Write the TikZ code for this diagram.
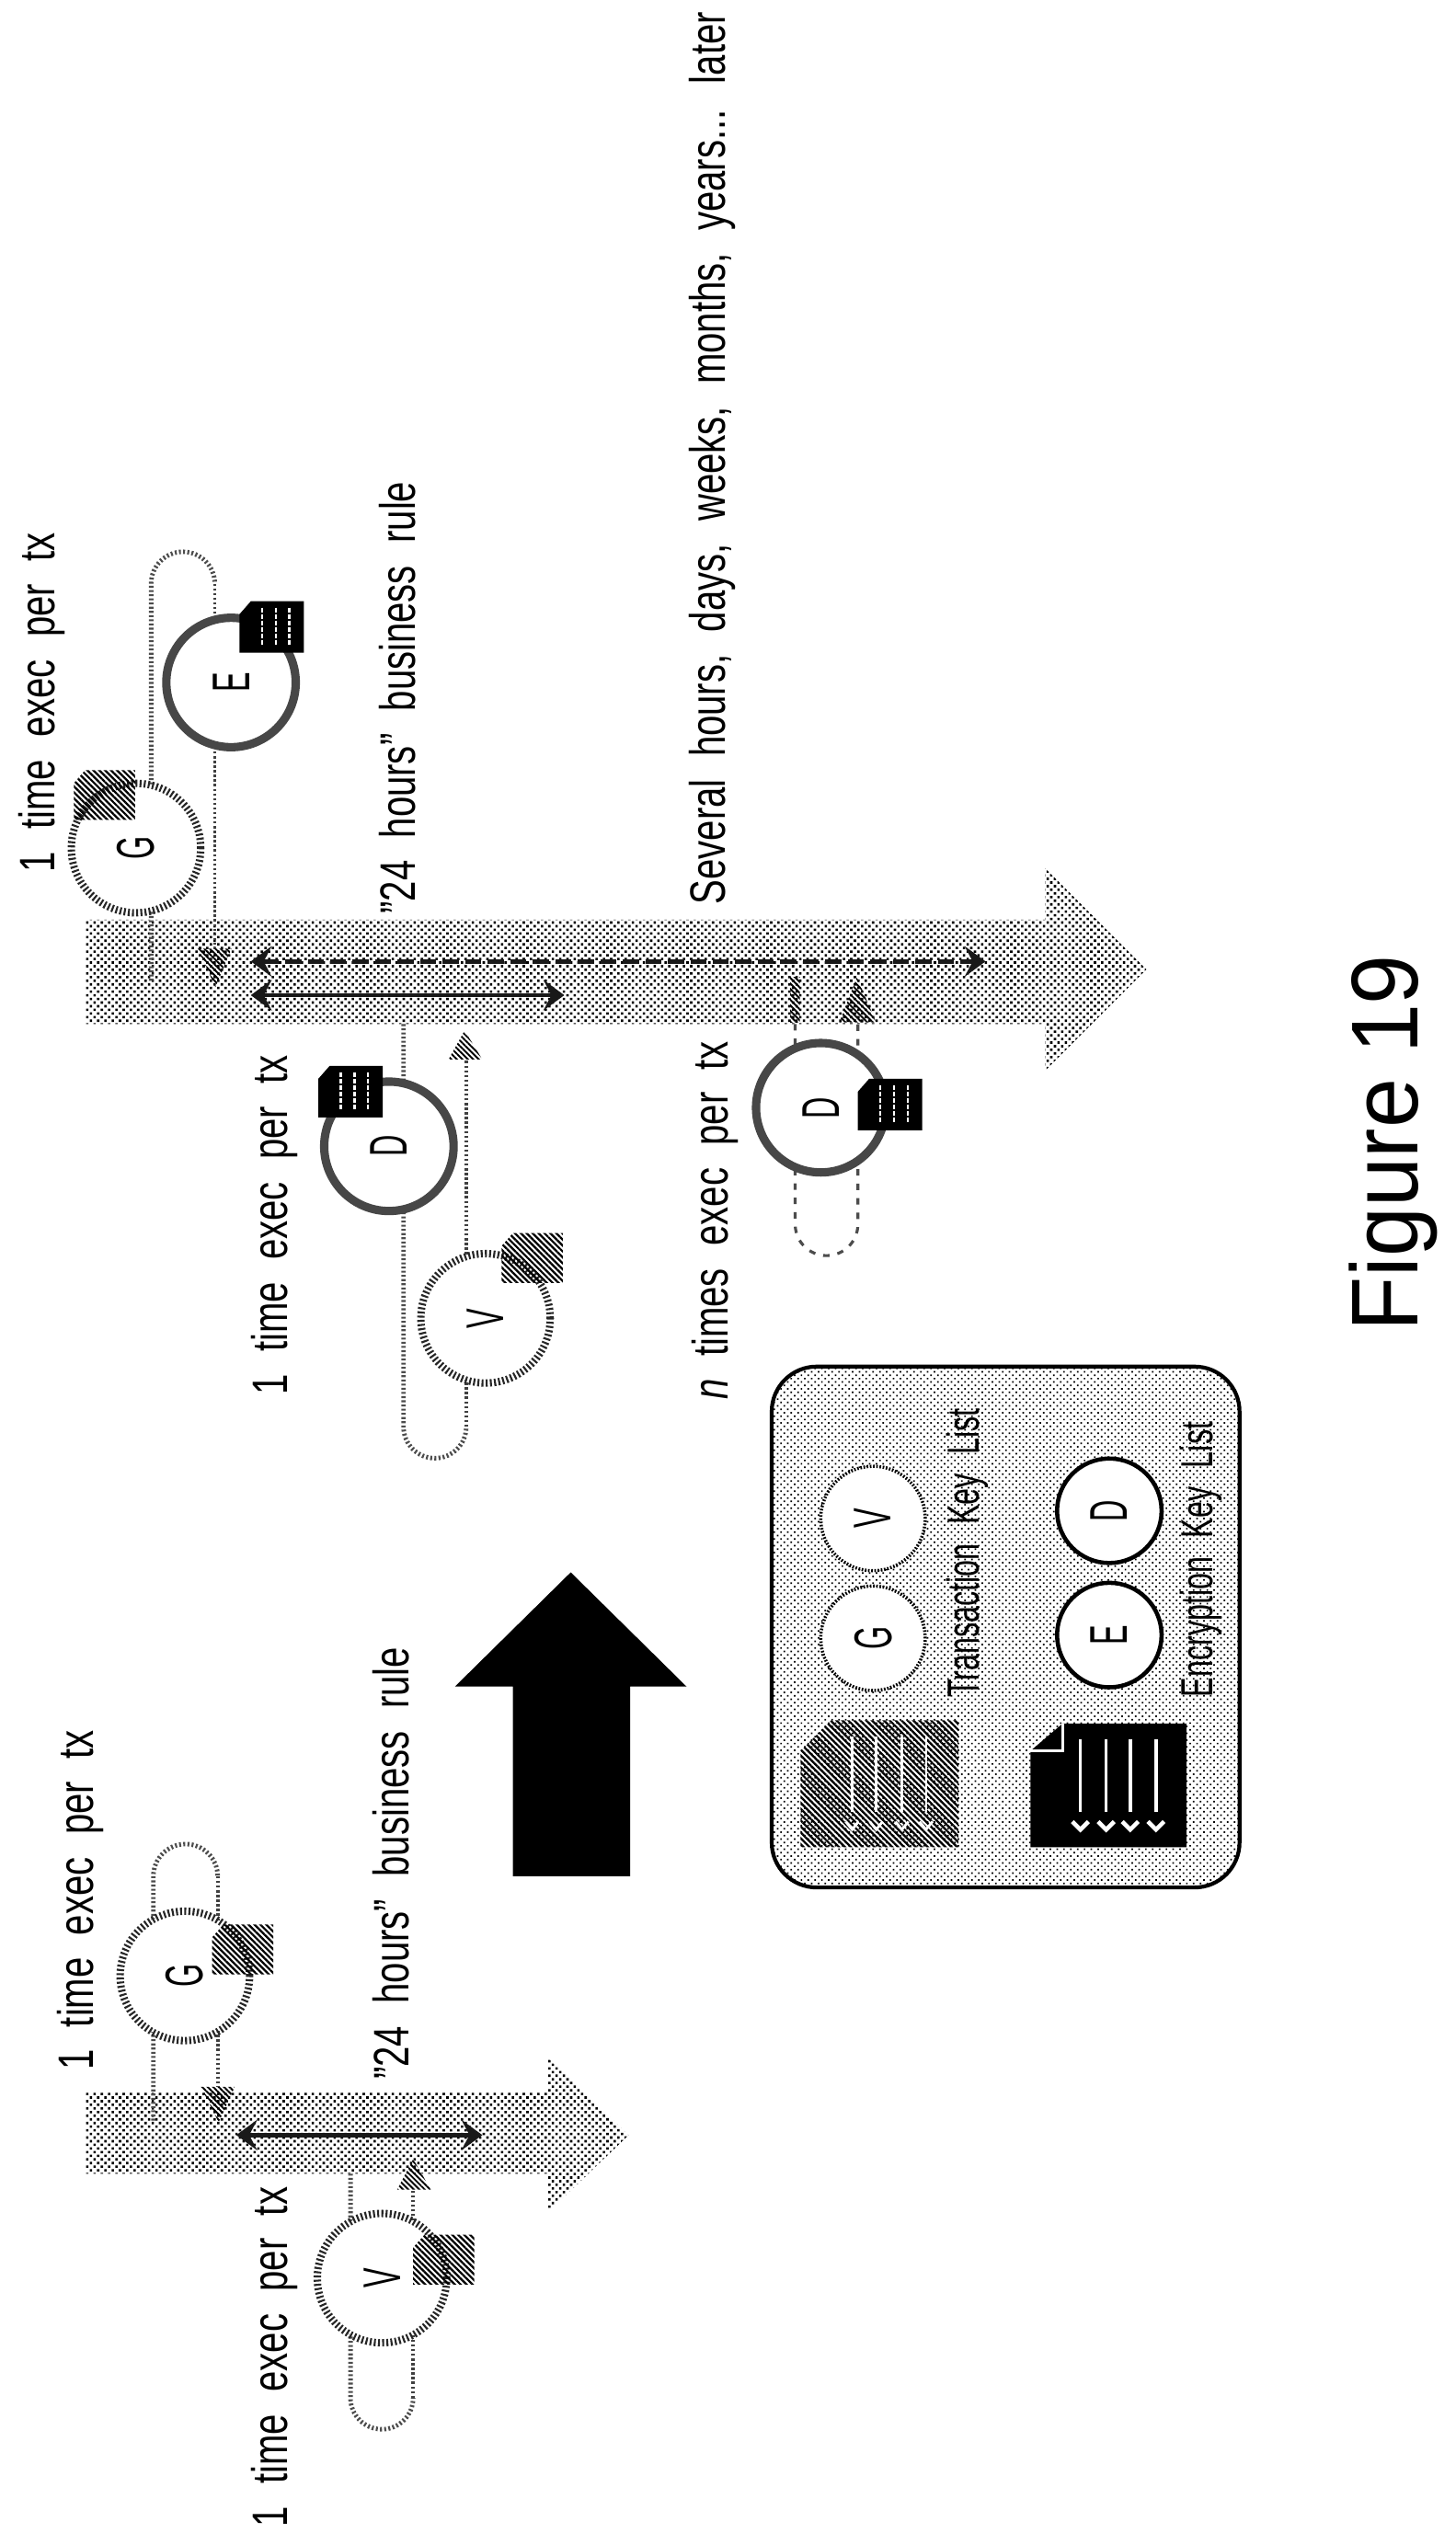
\documentclass[tikz,border=0pt]{standalone}
\usepackage{fontspec}
\setmainfont{Liberation Sans}
\newfontfamily\lbl[FakeStretch=0.74]{Liberation Sans}
\newfontfamily\klbl[FakeStretch=0.66]{Liberation Sans}
\newfontfamily\ltr[FakeStretch=0.56]{Liberation Sans}
\newfontfamily\figcap[FakeStretch=0.94]{Liberation Sans}
\usetikzlibrary{arrows.meta,patterns.meta,shapes.geometric}
\newcommand{\wsp}{\spaceskip=0.45em\relax}
\newcommand{\ksp}{\spaceskip=0.42em\relax}
\tikzset{
  timeaxis/.style={draw=none,pattern={Dots[radius=1.05pt,distance=3.2pt,angle=45]},pattern color=black},
  keypanel/.style={pattern={Dots[radius=0.7pt,distance=3pt,angle=45]},pattern color=black},
  ringg/.style={circle,draw=black!85,dash pattern=on 1.2pt off 1.4pt,fill=white,line width=4.6pt,minimum size=80.5pt,inner sep=0pt},
  ringk/.style={circle,draw=black!72,fill=white,line width=5.2pt,minimum size=80.5pt,inner sep=0pt},
  keyg/.style={circle,draw=black,dash pattern=on 1pt off 1pt,line width=2pt,fill=white,minimum size=65pt,inner sep=0pt},
  keyk/.style={circle,draw=black,line width=2.6pt,fill=white,minimum size=65pt,inner sep=0pt},
  looplineg/.style={draw=black!70,line width=2.8pt,dash pattern=on 1.2pt off 1.4pt},
  looplinek/.style={draw=black!75,line width=2.2pt,dash pattern=on 1.4pt off 1.5pt},
  looplined/.style={draw=black!70,line width=1.8pt,dash pattern=on 4pt off 5pt},
  hatchdoc/.style={pattern={Lines[angle=-45,distance=2.6pt,line width=1.3pt]},pattern color=black},
  hatchhead/.style={pattern={Lines[angle=-45,distance=2.4pt,line width=1.1pt]},pattern color=black},
  spanline/.style={draw=black!90,line width=2.6pt,{Stealth[length=13pt,width=19pt,inset=5pt]}-{Stealth[length=13pt,width=19pt,inset=5pt]}},
  spandash/.style={spanline,dash pattern=on 10pt off 4pt},
  lab/.style={font=\lbl\fontsize{31}{31}\selectfont\wsp,rotate=90,inner sep=0pt,text=black},
  letter/.style={font=\ltr\fontsize{33}{33}\selectfont,rotate=90,inner sep=0pt},
  keytxt/.style={font=\klbl\fontsize{28}{28}\selectfont\ksp,rotate=90,inner sep=0pt},
}
\newcommand{\smalldark}[2]{% x y : black sheet, lines along y, 40x32
  \path[fill=black] (#1,#2+8) -- (#1+7,#2) -- (#1+40,#2) -- (#1+40,#2+32) -- (#1,#2+32) -- cycle;
  \foreach \q in {14,22.5,31}{\draw[white,line width=1.3pt,dash pattern=on 3pt off 1pt] (#1+\q,#2+4) -- ++(0,24);}
}
\newcommand{\smallgray}[2]{% x y : hatched sheet, 38x31
  \path[hatchdoc] (#1,#2+8) -- (#1+7,#2) -- (#1+38,#2) -- (#1+38,#2+31) -- (#1,#2+31) -- cycle;
}
\begin{document}
\begin{tikzpicture}[x=1pt,y=-1pt]
\useasboundingbox (0,0) rectangle (905.6,1583);
\fill[white] (0,0) rectangle (905.6,1583);

% ---- upper time axis
\path[timeaxis] (53,572) -- (650,572) -- (650,540) -- (713,603) -- (650,666) -- (650,637) -- (53,637) -- cycle;
% G/E loop
\draw[looplineg] (94,610) -- (94,363) arc[start angle=180,end angle=360,radius=19.8];
\draw[looplinek] (133.6,363) -- (133.6,592);
\path[hatchhead] (123,590) -- (144,590) -- (134,614) -- cycle;
% D/V loop
\draw[looplineg] (251,637) -- (251,887.5) arc[start angle=180,end angle=0,radius=19.5];
\draw[looplinek] (290,887.5) -- (290,659);
\path[hatchhead] (279,659) -- (289,641) -- (300,659) -- cycle;
% lower D loop
\draw[looplined] (494.6,637) -- (494.6,761.5) arc[start angle=180,end angle=0,radius=19.5] -- (533.6,637);
\path[hatchhead] (491.5,608) rectangle (497.5,636);
\path[hatchhead] (522,636) -- (533,608) -- (545,636) -- cycle;

% spans
\coordinate (sa) at (156,619); \coordinate (sb) at (351,619);
\coordinate (da) at (156,598); \coordinate (db) at (613,598);
\draw[spanline] (sa) -- (sb);
\draw[spandash] (da) -- (db);

% circles upper
\node[ringg] (G1) at (84.6,527.5) {}; \node[letter] (lG1) at (G1) {G};
\node[ringk] (E1) at (143.7,424.5) {}; \node[letter] (lE1) at (E1) {E};
\node[ringk] (D1) at (241.9,713) {}; \node[letter] (lD1) at (D1.center) {D};
\node[ringg] (V1) at (302,820) {}; \node[letter] (lV1) at (V1) {V};
\node[ringk] (D2) at (510.5,689) {}; \node[letter] (lD2) at (D2) {D};
\smallgray{46}{479}
\smalldark{149}{374}
\smalldark{198}{663}
\smallgray{312}{767}
\smalldark{533.6}{671}

% text upper
\node[lab] (t1) at (26,437) {1 time exec per tx};
\node[lab] (t2) at (247,434) {”24 hours” business rule};
\node[lab] (t3) at (443,285) {Several hours, days, weeks, months, years... later};
\node[lab] (t4) at (171,762) {1 time exec per tx};
\node[lab] (t5) at (445,759) {\textit{n} times exec per tx};

% ---- lower time axis
\path[timeaxis] (53,1301) -- (341,1301) -- (341,1280) -- (391,1328) -- (341,1376) -- (341,1352) -- (53,1352) -- cycle;
\draw[looplineg] (95.4,1319) -- (95.4,1167) arc[start angle=180,end angle=360,radius=20];
\draw[looplinek] (135.4,1167) -- (135.4,1298);
\path[hatchhead] (125,1298) -- (146,1298) -- (136,1320) -- cycle;
\draw[looplineg] (218,1352) -- (218,1491.5) arc[start angle=180,end angle=0,radius=19.5];
\draw[looplinek] (257,1491.5) -- (257,1362);
\path[hatchhead] (247,1362) -- (257,1343) -- (268,1362) -- cycle;
\coordinate (sc) at (147,1328); \coordinate (sd) at (300,1328);
\draw[spanline] (sc) -- (sd);
\node[ringg] (G2) at (115,1229) {}; \node[letter] (lG2) at (G2) {G};
\node[ringg] (V2) at (237.6,1417) {}; \node[letter] (lV2) at (V2) {V};
\smallgray{132}{1197}
\smallgray{257}{1390}
\node[lab] (t6) at (50,1182) {1 time exec per tx};
\node[lab] (t7) at (243,1159) {”24 hours” business rule};
\node[lab] (t8) at (171,1466) {1 time exec per tx};

% ---- big black arrow
\fill[black] (319,1167) -- (319,1049) -- (283,1049) -- (355,978) -- (427,1049) -- (392,1049) -- (392,1167) -- cycle;

% ---- key panel
\path[keypanel,draw=black,line width=2.4pt,rounded corners=28pt] (480,850) rectangle (771,1174);
\node[keyg] (kG) at (543,1019) {}; \node[letter] (lkG) at (kG) {G};
\node[keyg] (kV) at (543,944.5) {}; \node[letter] (lkV) at (kV) {V};
\node[keyk] (kE) at (690,1017) {}; \node[letter] (lkE) at (kE) {E};
\node[keyk] (kD) at (690,939.7) {}; \node[letter] (lkD) at (kD) {D};
\node[keytxt] (kt1) at (602,966) {Transaction Key List};
\node[keytxt] (kt2) at (747,970) {Encryption Key List};
% gray document
\path[hatchdoc] (498,1089) -- (517,1070) -- (596,1070) -- (596,1149) -- (498,1149) -- cycle;
\foreach \q in {530,545,561,576}{\draw[white,line width=1.4pt] (\q,1080) -- (\q,1127);}
\foreach \q in {530,545,561,576}{\draw[white,line width=1.6pt] (\q-4,1133) -- (\q,1138) -- (\q+4,1133);}
% black document
\fill[black] (641,1089) -- (661,1072) -- (738,1072) -- (738,1149) -- (641,1149) -- cycle;
\draw[white,line width=1.6pt] (641,1089) -- (661,1089) -- (661,1072);
\foreach \q in {672,688,703,719}{\draw[white,line width=2pt] (\q,1082) -- (\q,1127);}
\foreach \q in {672,688,703,719}{\draw[white,line width=2.6pt] (\q-5,1133) -- (\q,1138) -- (\q+5,1133);}

% caption
\node[font=\figcap\fontsize{59}{59}\selectfont,rotate=90,inner sep=0pt,anchor=base] (fig) at (881.6,711) {Figure 19};
\end{tikzpicture}
\end{document}
